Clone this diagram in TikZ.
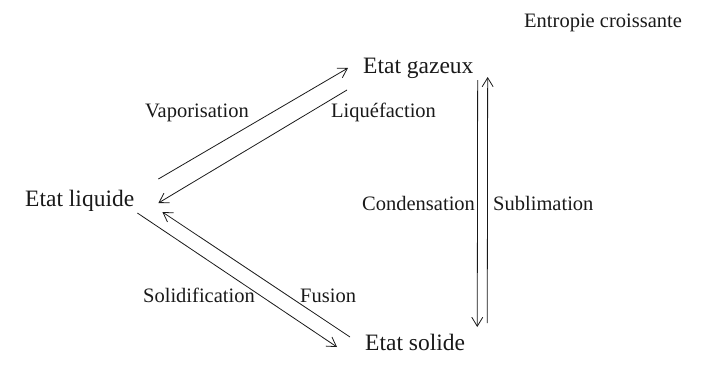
\documentclass[tikz,border=0pt]{standalone}
\usepackage{fontspec}
\setmainfont{Liberation Serif}
\usetikzlibrary{arrows.meta}

\begin{document}
\begin{tikzpicture}[x=1pt,y=-1pt,
  state/.style={inner sep=0pt,anchor=base west,text=black!90,font=\fontsize{23.5}{27}\selectfont},
  trans/.style={inner sep=0pt,anchor=base west,text=black!90,font=\fontsize{20.5}{24}\selectfont},
  arr/.style={-{Straight Barb[length=9pt,width=11pt]},line width=0.8pt,black!90}]
\useasboundingbox (0,0) rectangle (703,383);
\node[state] (liq) at (25,206) {Etat liquide}; \node[state] (gaz) at (363,73) {Etat gazeux}; \node[state] (sol) at (365,350) {Etat solide};
\node[trans] (vap) at (145,117) {Vaporisation}; \node[trans] (liqf) at (331,117) {Liquéfaction};
\node[trans] (solid) at (143,302) {Solidification}; \node[trans] (fus) at (300,302) {Fusion};
\node[trans] (cond) at (362,210) {Condensation}; \node[trans] (subl) at (493,210) {Sublimation};
\node[trans] (entropie) at (524,27) {Entropie croissante};
% liquide <-> gaz
\draw[arr] ([shift={(24,-27)}]liq.base east) -- ([shift={(-15,-5)}]gaz.base west);
\draw[arr] ([shift={(-16,17)}]gaz.base west) -- ([shift={(24,-3)}]liq.base east);
% liquide <-> solide
\draw[arr] ([shift={(3,7)}]liq.base east) -- ([shift={(-28,-3)}]sol.base west);
\draw[arr] ([shift={(-15,-13)}]sol.base west) -- ([shift={(28,6)}]liq.base east);
% gaz <-> solide
\draw[arr] ([shift={(4,7)}]gaz.base east) -- ([shift={(12,-23)}]sol.base east);
\draw[arr] ([shift={(22,-27)}]sol.base east) -- ([shift={(14,4)}]gaz.base east);
\end{tikzpicture}
\end{document}
